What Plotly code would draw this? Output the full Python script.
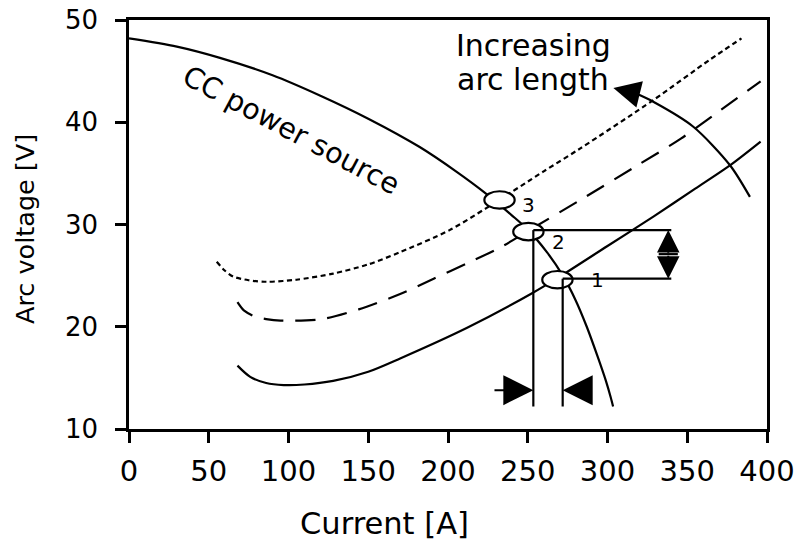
import plotly.graph_objects as go

# ---- data ----
cc_x = [0, 30, 57, 90, 120, 150, 182, 205, 224, 240, 250, 262, 272, 280, 287, 294, 299, 302, 303.5]
cc_y = [48.2, 47.4, 46.3, 44.6, 42.6, 40.35, 37.6, 35.2, 33.0, 30.9, 29.5, 27.3, 25.0, 22.6, 20.0, 17.0, 14.7, 13.1, 12.2]

arc1_x = [68, 76, 86, 97, 110, 128, 150, 170, 212, 253, 268, 300, 329, 355, 377, 396]
arc1_y = [16.2, 15.1, 14.5, 14.3, 14.35, 14.7, 15.6, 16.9, 19.9, 23.3, 24.7, 27.9, 30.8, 33.5, 35.8, 38.1]

arc2_x = [68, 72, 79, 86, 95, 121, 144, 170, 191, 212, 234.5, 251, 283, 320, 346, 371, 396]
arc2_y = [22.4, 21.6, 21.0, 20.75, 20.6, 20.75, 21.7, 23.2, 24.7, 26.2, 27.9, 29.45, 32.4, 35.9, 38.4, 41.2, 44.0]

arc3_x = [55, 60, 65.4, 75, 86.3, 105, 128, 150, 170, 201, 224, 260, 283, 329, 364, 384]
arc3_y = [26.35, 25.5, 24.9, 24.55, 24.4, 24.6, 25.2, 26.1, 27.3, 29.45, 31.6, 35.2, 37.45, 42.2, 46.1, 48.2]

trend_x = [389.3, 376.8, 353.8, 328.7, 318]
trend_y = [32.7, 35.8, 39.56, 42.0, 42.8]
trend_tip = (303.7, 43.35)

op_x = [268.6, 250.4, 232.3]        # operating points 1, 2, 3
op_y = [24.6, 29.3, 32.4]
op_labels = ["1", "2", "3"]
op_label_x = [294, 269, 250.2]
op_label_y = [24.56, 28.3, 31.9]

drop_x = [271.9, 253.5]
level_y = [24.7, 29.45]
drop_bottom = 12.2
level_right = 340
dv_x = 338.1
dv_mid = 27.1
di_y = 13.8
di_left_tail = 228.2
di_right_tail = 291

x_ticks = [0, 50, 100, 150, 200, 250, 300, 350, 400]
y_ticks = [10, 20, 30, 40, 50]

FONT = "DejaVu Sans"
BLACK = "black"
LW = 2.2

fig = go.Figure()
for xs, ys, dash in [(cc_x, cc_y, None), (arc1_x, arc1_y, None),
                     (arc2_x, arc2_y, "20px,12px"), (arc3_x, arc3_y, "5px,3.5px"),
                     (trend_x, trend_y, None)]:
    fig.add_trace(go.Scatter(x=xs, y=ys, mode="lines",
                             line=dict(color=BLACK, width=LW, shape="spline", smoothing=0.8, dash=dash),
                             hoverinfo="skip"))

shapes = []
for xc, yc in zip(op_x, op_y):
    shapes.append(dict(type="circle", xref="x", yref="y",
                       x0=xc - 9.5, x1=xc + 9.5, y0=yc - 0.85, y1=yc + 0.85,
                       line=dict(color=BLACK, width=LW), fillcolor="white", layer="above"))
for dx, ly in zip(drop_x, level_y):
    shapes.append(dict(type="line", xref="x", yref="y", x0=dx, x1=dx, y0=ly, y1=drop_bottom,
                       line=dict(color=BLACK, width=LW), layer="above"))
    shapes.append(dict(type="line", xref="x", yref="y", x0=dx, x1=level_right, y0=ly, y1=ly,
                       line=dict(color=BLACK, width=LW), layer="above"))
shapes.append(dict(type="line", xref="x", yref="y", x0=dv_x - 6, x1=dv_x + 6, y0=dv_mid, y1=dv_mid,
                   line=dict(color=BLACK, width=LW), layer="above"))

annotations = []
def arrow(x, y, ax, ay, size=3.0):
    annotations.append(dict(x=x, y=y, ax=ax, ay=ay, xref="x", yref="y", axref="x", ayref="y",
                            text="", showarrow=True, arrowhead=2, arrowsize=size, arrowwidth=2,
                            arrowcolor=BLACK, standoff=0))

arrow(drop_x[1], di_y, di_left_tail, di_y)
arrow(drop_x[0], di_y, di_right_tail, di_y)
arrow(dv_x, level_y[1], dv_x, dv_mid, size=2.25)
arrow(dv_x, level_y[0], dv_x, dv_mid, size=2.25)
arrow(trend_tip[0], trend_tip[1], trend_x[-1], trend_y[-1], size=2.7)

for t, lx, ly in zip(op_labels, op_label_x, op_label_y):
    annotations.append(dict(x=lx, y=ly, xref="x", yref="y", text=t, showarrow=False,
                            font=dict(family=FONT, size=20, color=BLACK)))

annotations.append(dict(x=253.3, y=47.55, xref="x", yref="y", text="Increasing", showarrow=False,
                        font=dict(family=FONT, size=30, color=BLACK)))
annotations.append(dict(x=253.3, y=44.2, xref="x", yref="y", text="arc length", showarrow=False,
                        font=dict(family=FONT, size=30, color=BLACK)))
annotations.append(dict(x=101.9, y=39.24, xref="x", yref="y", text="CC power source", showarrow=False,
                        textangle=28, font=dict(family=FONT, size=28.5, color=BLACK)))

annotations.append(dict(x=0.401, y=-0.23, xref="paper", yref="paper", text="Current [A]",
                        xanchor="center", yanchor="middle",
                        showarrow=False, font=dict(family=FONT, size=30.5, color=BLACK)))
annotations.append(dict(x=-0.163, y=0.489, xref="paper", yref="paper", text="Arc voltage [V]",
                        xanchor="center", yanchor="middle",
                        showarrow=False, textangle=-90, font=dict(family=FONT, size=25.5, color=BLACK)))

fig.update_layout(
    width=798, height=543,
    margin=dict(l=129, r=31, t=20, b=114, autoexpand=False),
    paper_bgcolor="white", plot_bgcolor="white",
    showlegend=False,
    shapes=shapes, annotations=annotations,
    xaxis=dict(range=[0, 400], tickvals=x_ticks, ticktext=[str(v) for v in x_ticks],
               automargin=False, ticklabeloverflow="allow",
               showgrid=False, zeroline=False, showline=True, linecolor=BLACK, linewidth=2.5,
               mirror=True, ticks="outside", ticklen=11, tickwidth=2.5, tickcolor=BLACK,
               ticklabelstandoff=3,
               tickfont=dict(family=FONT, size=29, color=BLACK)),
    yaxis=dict(range=[10, 50], tickvals=y_ticks, ticktext=[str(v) for v in y_ticks],
               automargin=False, ticklabeloverflow="allow",
               showgrid=False, zeroline=False, showline=True, linecolor=BLACK, linewidth=2.5,
               mirror=True, ticks="outside", ticklen=11, tickwidth=2.5, tickcolor=BLACK,
               ticklabelstandoff=12,
               tickfont=dict(family=FONT, size=26, color=BLACK)),
)

# remove the default 8px page margin so the 798x543 figure fills the window exactly
fig.write_html("out.html", config={"displayModeBar": False},
               post_script="document.body.style.margin='0';")
